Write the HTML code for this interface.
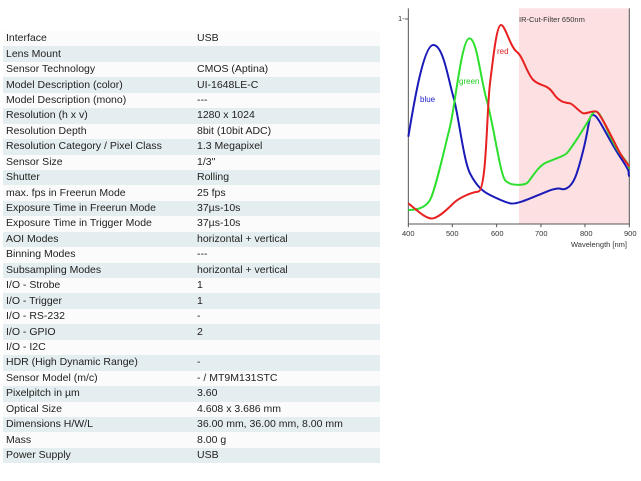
<!DOCTYPE html>
<html><head><style>
body{margin:0;width:641px;height:481px;background:#fff;overflow:hidden;font-family:"Liberation Sans",sans-serif}
table{position:absolute;left:3px;top:31px;border-collapse:collapse;width:377px;font-size:10.5px;color:#222}
td{height:15.45px;padding:0 0 0 3px;line-height:15px;white-space:nowrap}
td:first-child{width:188px}
tr:nth-child(odd){background:#fbfbfb}
tr:nth-child(even){background:#e4edef}
</style></head><body>
<table>
<tr><td>Interface</td><td>USB</td></tr>
<tr><td>Lens Mount</td><td></td></tr>
<tr><td>Sensor Technology</td><td>CMOS (Aptina)</td></tr>
<tr><td>Model Description (color)</td><td>UI-1648LE-C</td></tr>
<tr><td>Model Description (mono)</td><td>---</td></tr>
<tr><td>Resolution (h x v)</td><td>1280 x 1024</td></tr>
<tr><td>Resolution Depth</td><td>8bit (10bit ADC)</td></tr>
<tr><td>Resolution Category / Pixel Class</td><td>1.3 Megapixel</td></tr>
<tr><td>Sensor Size</td><td>1/3"</td></tr>
<tr><td>Shutter</td><td>Rolling</td></tr>
<tr><td>max. fps in Freerun Mode</td><td>25 fps</td></tr>
<tr><td>Exposure Time in Freerun Mode</td><td>37µs-10s</td></tr>
<tr><td>Exposure Time in Trigger Mode</td><td>37µs-10s</td></tr>
<tr><td>AOI Modes</td><td>horizontal + vertical</td></tr>
<tr><td>Binning Modes</td><td>---</td></tr>
<tr><td>Subsampling Modes</td><td>horizontal + vertical</td></tr>
<tr><td>I/O - Strobe</td><td>1</td></tr>
<tr><td>I/O - Trigger</td><td>1</td></tr>
<tr><td>I/O - RS-232</td><td>-</td></tr>
<tr><td>I/O - GPIO</td><td>2</td></tr>
<tr><td>I/O - I2C</td><td></td></tr>
<tr><td>HDR (High Dynamic Range)</td><td>-</td></tr>
<tr><td>Sensor Model (m/c)</td><td>- / MT9M131STC</td></tr>
<tr><td>Pixelpitch in µm</td><td>3.60</td></tr>
<tr><td>Optical Size</td><td>4.608 x 3.686 mm</td></tr>
<tr><td>Dimensions H/W/L</td><td>36.00 mm, 36.00 mm, 8.00 mm</td></tr>
<tr><td>Mass</td><td>8.00 g</td></tr>
<tr><td>Power Supply</td><td>USB</td></tr>
</table>
<svg width="641" height="481" style="position:absolute;left:0;top:0">
<g transform="translate(390,0) scale(0.3333)" fill="none" stroke-width="6" stroke-linejoin="round">
<rect x="387" y="25" width="331" height="647" fill="#fde0e2" stroke="none"/>
<path d="M55 25V672H718V25" stroke="#555" stroke-width="3"/>
<path d="M45 57H55" stroke="#555" stroke-width="3"/>
<path d="M55 672v10M187 672v10M320 672v10M453 672v10M585 672v10M718 672v10" stroke="#555" stroke-width="3"/>
<path stroke="#1a1ab8" d="M55 410C70 320 100 135 130 135S175 240 190 290 220 480 240 520 280 575 300 585 340 605 360 610 420 595 470 575 510 575 530 565 560 530 580 450 595 345 610 345 650 410 690 470 710 510 718 530"/>
<path stroke="#2de02d" d="M55 630C80 630 105 625 120 600S165 440 180 380 215 115 238 115 270 230 290 300 330 520 345 540 400 555 410 550 440 500 470 487 520 470 530 460 580 390 605 345 650 410 690 460 710 495 718 505"/>
<path stroke="#e82020" d="M55 610C80 630 110 660 130 655S175 625 190 610 240 578 265 575 290 330 300 250 320 75 333 75 360 140 380 155 410 220 430 240 470 250 490 280 530 308 540 310 570 338 580 340 610 330 620 335 660 400 680 440 705 480 718 500"/>
</g>
<g font-size="7.5" fill="#333">
<text x="398" y="21">1-</text>
<text x="420" y="102" fill="#2222cc" font-size="8">blue</text>
<text x="459" y="84" fill="#22cc22" font-size="8">green</text>
<text x="497" y="54" fill="#dd2222" font-size="8">red</text>
<text x="519" y="22">IR-Cut-Filter 650nm</text>
<text x="402" y="236">400</text><text x="446" y="236">500</text><text x="491" y="236">600</text><text x="535" y="236">700</text><text x="580" y="236">800</text><text x="624" y="236">900</text>
<text x="571" y="247">Wavelength [nm]</text>
</g>
</svg>
</body></html>
